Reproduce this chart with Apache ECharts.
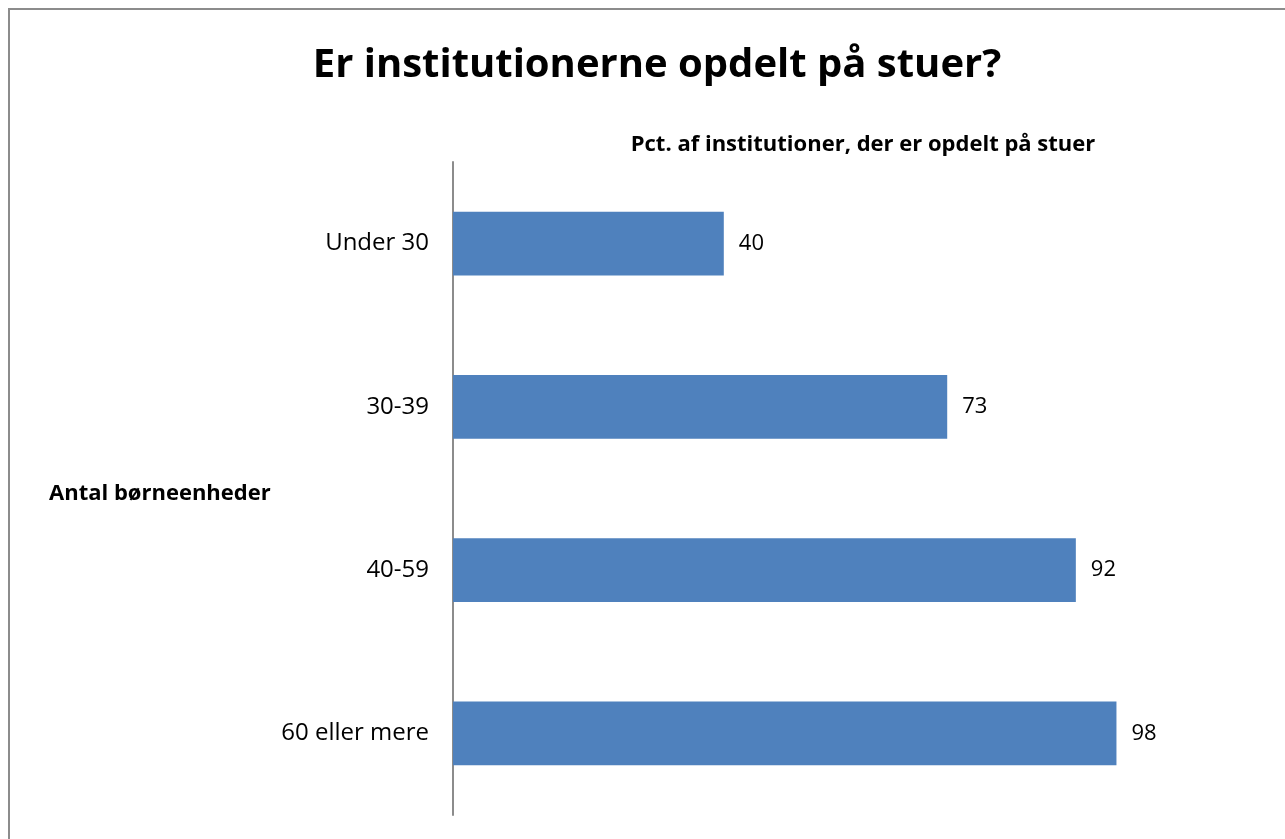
<!DOCTYPE html>
<html>
<head>
<meta charset="utf-8">
<script src="https://cdn.jsdelivr.net/npm/echarts@6/dist/echarts.min.js"></script>
<style>
  html, body { margin: 0; padding: 0; background: #fff; overflow: hidden; }
  #frame { position: absolute; left: 8px; top: 8px; width: 1290px; height: 850px; border: 2px solid #8c8c8c; box-sizing: border-box; }
  #chart { position: absolute; left: 0; top: 0; width: 1285px; height: 839px; }
</style>
</head>
<body>
<div id="frame"></div>
<div id="chart"></div>
<script>
const categories = ['Under 30', '30-39', '40-59', '60 eller mere']
const values = [40, 73, 92, 98]

const font = '"Open Sans", "Noto Sans", sans-serif'
const chart = echarts.init(document.getElementById('chart'))

const option = {
  animation: false,
  textStyle: { fontFamily: font },
  title: [
    {
      text: 'Er institutionerne opdelt på stuer?',
      left: 652,
      top: 41,
      textAlign: 'center',
      textStyle: { fontSize: 40, fontWeight: 'bold', color: '#000', fontFamily: font }
    },
    {
      text: 'Pct. af institutioner, der er opdelt på stuer',
      left: 858,
      top: 129,
      textAlign: 'center',
      textStyle: { fontSize: 22, fontWeight: 'bold', color: '#000', fontFamily: font }
    },
    {
      text: 'Antal børneenheder',
      left: 44,
      top: 478,
      textStyle: { fontSize: 22, fontWeight: 'bold', color: '#000', fontFamily: font }
    }
  ],
  grid: { left: 453, right: 155, top: 162, bottom: 24, containLabel: false },
  xAxis: {
    type: 'value',
    min: 0,
    max: 100,
    show: false
  },
  yAxis: {
    type: 'category',
    data: categories,
    inverse: true,
    axisLine: { show: true, lineStyle: { color: '#8c8c8c', width: 2 } },
    axisTick: { show: false },
    axisLabel: { margin: 24, fontSize: 24, color: '#000', fontFamily: font },
    splitLine: { show: false }
  },
  series: [
    {
      type: 'bar',
      data: values,
      barWidth: '39%',
      itemStyle: { color: '#4f81bd' },
      label: {
        show: true,
        position: 'right',
        distance: 15,
        fontSize: 22,
        color: '#000',
        fontFamily: font
      }
    }
  ]
}

chart.setOption(option)
</script>
</body>
</html>
